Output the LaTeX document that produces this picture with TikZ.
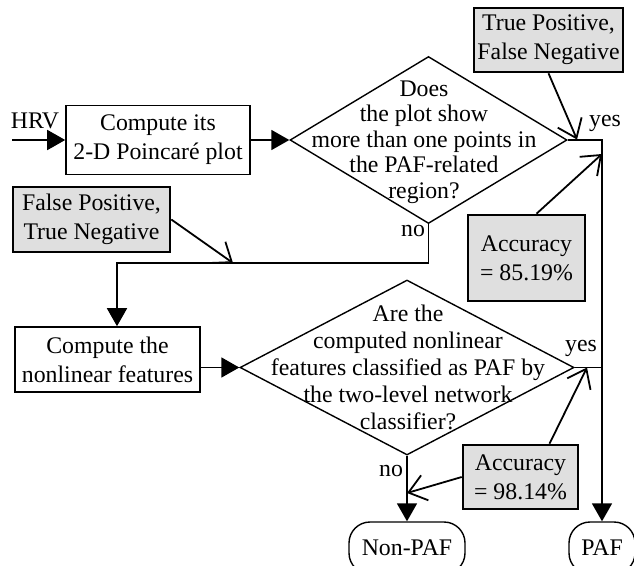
\documentclass[tikz,border=0pt]{standalone}
\usepackage{fontspec}
\setmainfont{Liberation Serif}
\usetikzlibrary{shapes.geometric}
\usetikzlibrary{arrows.meta}
\usetikzlibrary{positioning}
\usetikzlibrary{calc}

\begin{document}
\begin{tikzpicture}[x=1pt, y=-1pt,
	every node/.style={font=\fontsize{23.8}{29}\selectfont, inner sep=0pt},
	procbox/.style={draw, line width=1.6pt, align=center},
	notebox/.style={draw, line width=2.6pt, fill=gray!25, align=center},
	decision/.style={diamond, draw, line width=1.4pt},
	terminal/.style={draw, line width=1.4pt, rounded corners=21pt, minimum height=52pt},
	flow/.style={-{Triangle[length=18pt,width=20pt]}, line width=1.8pt},
	note/.style={-{Straight Barb[length=17pt,width=26pt]}, line width=1.8pt}]
\useasboundingbox (0,0) rectangle (634,565);

\coordinate (hrvin) at (12,140);
\coordinate (bend) at (117,263);
\coordinate (fpend) at (233,263);
\coordinate (tpend) at (577,139.5);
\coordinate (acc1end) at (602,154);
\coordinate (acc2end) at (587,367.5);
\coordinate (acc2end2) at (407,493);

\node(hrv) at (35,121) {HRV};
\node(box1)[procbox, minimum width=184pt, minimum height=69pt] at (158,140) {Compute its\\2-D Poincar\'e plot};
\node(d1)[decision, minimum width=277pt, minimum height=167pt] at (428.5,140) {};
\node(d1text)[font=\fontsize{23.8}{25.5}\selectfont, align=center] at (424,142) {Does\\the plot show\\more than one points in\\the PAF-related\\region?};
\node(tpbox)[notebox, minimum width=149pt, minimum height=64pt] at (548.5,40) {True Positive,\\False Negative};
\node(fpbox)[notebox, minimum width=157pt, minimum height=65pt] at (91.5,219.5) {False Positive,\\True Negative};
\node(acc1)[notebox, minimum width=117pt, minimum height=86pt] at (526.5,258) {Accuracy\\= 85.19\%};
\node(box2)[procbox, minimum width=185pt, minimum height=65pt] at (107.5,359.5) {Compute the\\nonlinear features};
\node(d2)[decision, minimum width=334pt, minimum height=175pt] at (407,367.5) {};
\node(d2text)[font=\fontsize{23.8}{27}\selectfont, align=center] at (408,367) {Are the\\computed nonlinear\\features classified as PAF by\\the two-level network\\classifier?};
\node(acc2)[notebox, minimum width=115pt, minimum height=64pt] at (520.5,477) {Accuracy\\= 98.14\%};
\node(nonpaf)[terminal, minimum width=116pt] at (407,548) {Non-PAF};
\node(paf)[terminal, minimum width=66pt] at (602,548) {PAF};

\node(yes1) at (605,123) {yes};
\node(no1) at (413,231) {no};
\node(yes2) at (581,348) {yes};
\node(no2) at (391,471) {no};

\draw[flow] (hrvin) -- (box1.west);
\draw[flow] (box1.east) -- (d1.west);
\draw[flow] (d1.south) |- (bend) -- (bend |- box2.north);
\draw[flow] (box2.east |- d2.west) -- (d2.west);
\draw[flow] (d1.east) -| (paf.north);
\draw[line width=1.8pt] (d2.east) -- (d2.east -| paf.north);
\draw[flow] (d2.south) -- (nonpaf.north);

\draw[note] (tpbox.south) -- (tpend);
\draw[note] (fpbox.east) -- (fpend);
\draw[note] ([xshift=10pt]acc1.north) -- (acc1end);
\draw[note] ([xshift=29pt]acc2.north) -- (acc2end);
\draw[note] (acc2.west) -- (acc2end2);
\end{tikzpicture}
\end{document}
